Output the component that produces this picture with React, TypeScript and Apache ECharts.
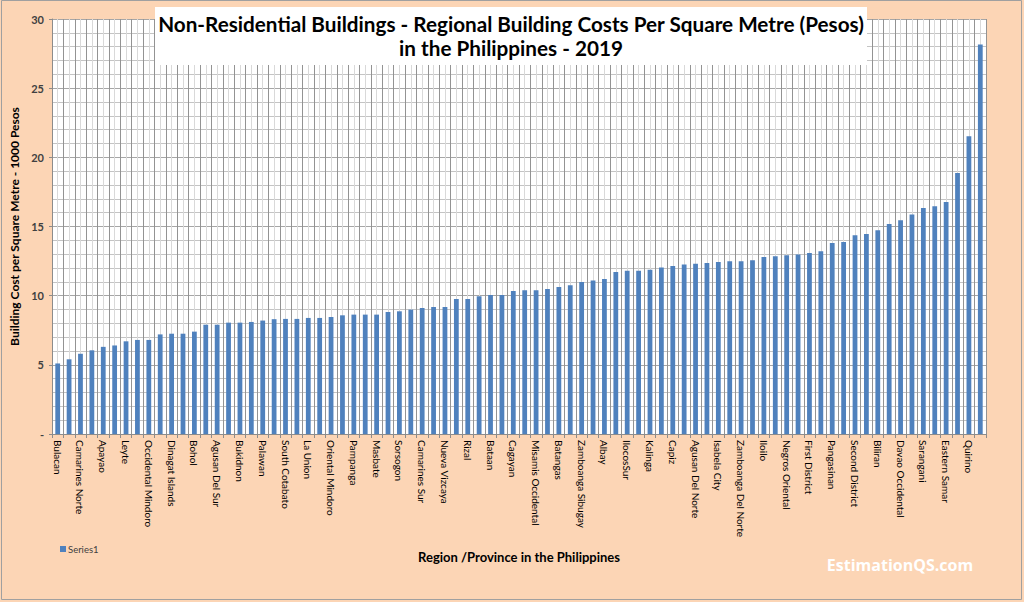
import React, { useEffect, useRef } from "react";
import * as echarts from "echarts";

const categories: string[] = [
  "Bulacan", "Abra", "Camarines Norte", "Aklan", "Apayao", "Antique", "Leyte", "Aurora",
  "Occidental Mindoro", "Basilan", "Dinagat Islands", "Benguet", "Bohol", "Camiguin",
  "Agusan Del Sur", "Catanduanes", "Bukidnon", "Cavite", "Palawan", "Cebu",
  "South Cotabato", "Compostela Valley", "La Union", "Cotabato", "Oriental Mindoro",
  "Davao Del Norte", "Pampanga", "Davao Del Sur", "Masbate", "Davao Oriental",
  "Sorsogon", "Guimaras", "Camarines Sur", "Ifugao", "Nueva Vizcaya", "Ilocos Norte",
  "Rizal", "Isabela", "Bataan", "Laguna", "Cagayan", "Lanao Del Norte",
  "Misamis Occidental", "Lanao Del Sur", "Batangas", "Maguindanao", "Zamboanga Sibugay",
  "Marinduque", "Albay", "Misamis Oriental", "IlocosSur", "Mountain Province", "Kalinga",
  "Negros Occidental", "Capiz", "Northern Samar", "Agusan Del Norte", "Nueva Ecija",
  "Isabela City", "Quezon", "Zamboanga Del Norte", "Romblon", "Iloilo", "Samar",
  "Negros Oriental", "Siquijor", "First District", "Southern Leyte", "Pangasinan",
  "Sultan Kudarat", "Second District", "Surigao Del Norte", "Biliran", "Surigao Del Sur",
  "Davao Occidental", "Tarlac", "Sarangani", "Zambales", "Eastern Samar",
  "Zamboanga Del Sur", "Quirino", "Third District",
];

const costs: number[] = [
  5.1, 5.4, 5.8, 6.05, 6.3, 6.4, 6.7, 6.8, 6.8, 7.2,
  7.25, 7.25, 7.4, 7.9, 7.9, 8.05, 8.05, 8.1, 8.2, 8.3,
  8.32, 8.32, 8.39, 8.39, 8.46, 8.58, 8.63, 8.63, 8.63, 8.82,
  8.87, 8.99, 9.11, 9.18, 9.18, 9.76, 9.76, 9.95, 10.05, 10.05,
  10.33, 10.39, 10.39, 10.48, 10.63, 10.75, 10.99, 11.09, 11.21, 11.71,
  11.81, 11.81, 11.88, 12.03, 12.15, 12.25, 12.3, 12.36, 12.44, 12.49,
  12.49, 12.56, 12.8, 12.85, 12.92, 12.97, 13.09, 13.21, 13.81, 13.88,
  14.36, 14.46, 14.73, 15.18, 15.45, 15.86, 16.34, 16.46, 16.77, 18.87,
  21.53, 28.15,
];

const titleLines: string[] = [
  "Non-Residential Buildings - Regional Building Costs Per Square Metre (Pesos)",
  "in the Philippines - 2019",
];

const FONT = "Lato, 'Open Sans', sans-serif";

export default function App() {
  const ref = useRef<HTMLDivElement>(null);

  useEffect(() => {
    if (!ref.current) return;
    const chart = echarts.init(ref.current, undefined, { renderer: "svg" });
    chart.setOption({
      animation: false,
      backgroundColor: "#FCD5B5",
      textStyle: { fontFamily: FONT },
      grid: {
        left: 44,
        right: 38,
        top: 19,
        bottom: 168,
        show: true,
        backgroundColor: "#ffffff",
        borderWidth: 0,
      },
      legend: {
        data: ["Series1"],
        left: 55,
        top: 539,
        itemWidth: 6,
        itemHeight: 6,
        itemGap: 4,
        icon: "rect",
        textStyle: { fontSize: 9.5, color: "#404040", fontFamily: FONT, padding: [0, 0, 0, -3] },
      },
      xAxis: [
        {
          type: "category",
          data: categories,
          name: "Region /Province in the Philippines",
          nameLocation: "middle",
          nameGap: 116,
          nameTextStyle: { fontSize: 13, fontWeight: "bold", color: "#000", fontFamily: FONT },
          axisLine: { show: true, lineStyle: { color: "#8c8c8c" } },
          axisTick: { show: true, interval: 0, length: 4, lineStyle: { color: "#8c8c8c" } },
          axisLabel: {
            interval: 1,
            rotate: -90,
            fontSize: 10,
            color: "#000",
            fontFamily: FONT,
            margin: 6,
          },
          splitLine: { show: false },
        },
        {
          type: "value",
          min: 0,
          max: 82,
          interval: 1,
          position: "bottom",
          axisLine: { show: false },
          axisTick: { show: false },
          axisLabel: { show: false },
          splitLine: { show: true, lineStyle: { color: "#939393", width: 1 } },
          minorTick: { show: false, splitNumber: 2 },
          minorSplitLine: { show: true, lineStyle: { color: "#d9d9d9", width: 1 } },
        },
      ],
      yAxis: {
        type: "value",
        min: 0,
        max: 30,
        interval: 5,
        name: "Building Cost per Square Metre - 1000 Pesos",
        nameLocation: "middle",
        nameRotate: 90,
        nameGap: 32,
        nameTextStyle: { fontSize: 12, fontWeight: "bold", color: "#000", fontFamily: FONT },
        axisLine: { show: true, lineStyle: { color: "#8c8c8c" } },
        axisTick: { show: true, length: 3, lineStyle: { color: "#8c8c8c" } },
        axisLabel: {
          formatter: (v: number) => (v === 0 ? "-" : String(v)),
          fontSize: 11,
          fontWeight: "bold",
          color: "#404040",
          fontFamily: FONT,
          margin: 8,
        },
        splitLine: { show: true, lineStyle: { color: "#a6a6a6" } },
        minorTick: { show: false, splitNumber: 5 },
        minorSplitLine: { show: true, lineStyle: { color: "#c4c4c4" } },
      },
      series: [
        {
          name: "Series1",
          type: "bar",
          xAxisIndex: 0,
          data: costs,
          barWidth: "42%",
          itemStyle: { color: "#4F81BD" },
        },
      ],
      graphic: [
        {
          type: "rect",
          z: 100,
          shape: { x: 155, y: 7, width: 712, height: 58 },
          style: { fill: "#ffffff" },
        },
        {
          type: "text",
          z: 101,
          x: 511,
          y: 24,
          style: {
            text: titleLines[0],
            fill: "#000",
            font: `bold 20.7px ${FONT}`,
            textAlign: "center",
            textVerticalAlign: "middle",
          },
        },
        {
          type: "text",
          z: 101,
          x: 511,
          y: 48,
          style: {
            text: titleLines[1],
            fill: "#000",
            font: `bold 20.7px ${FONT}`,
            textAlign: "center",
            textVerticalAlign: "middle",
          },
        },
        {
          type: "text",
          z: 101,
          x: 900,
          y: 565,
          style: {
            text: "EstimationQS.com",
            fill: "#ffffff",
            font: `bold 16px 'Open Sans', sans-serif`,
            textAlign: "center",
            textVerticalAlign: "middle",
            shadowColor: "rgba(255,255,255,0.8)",
            shadowBlur: 3,
          },
        },
        {
          type: "rect",
          z: 102,
          shape: { x: 1.5, y: 0.5, width: 1020, height: 599 },
          style: { fill: "none", stroke: "#a0a0a0", lineWidth: 1 },
        },
      ],
    });
    return () => chart.dispose();
  }, []);

  return (
    <div
      ref={ref}
      style={{ position: "fixed", left: 0, top: 0, width: 1024, height: 602 }}
    />
  );
}
